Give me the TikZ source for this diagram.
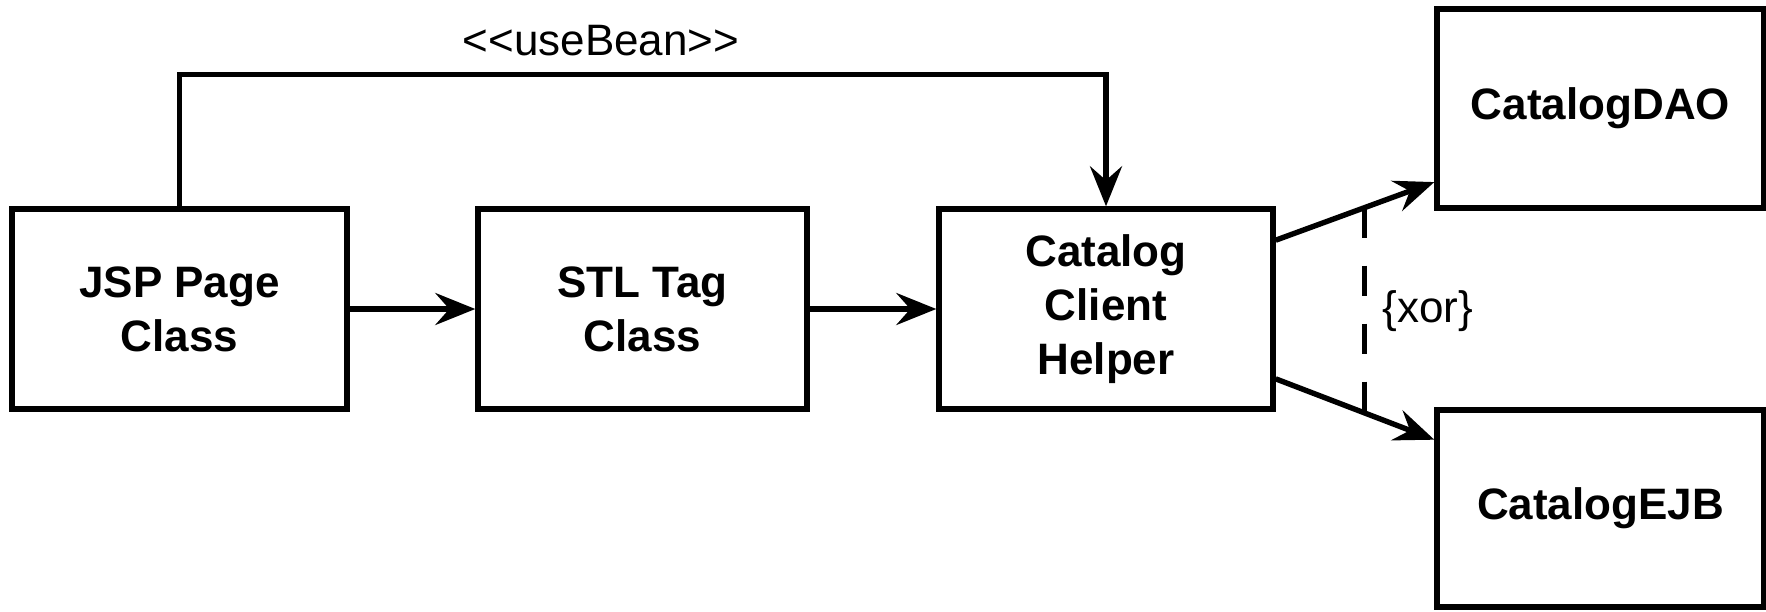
\documentclass[tikz,border=0pt]{standalone}
\usepackage{fontspec}
\setmainfont{Liberation Sans}
\usetikzlibrary{arrows.meta,calc}
\begin{document}
\begin{tikzpicture}[x=0.5pt,y=-0.5pt,
  box/.style={draw, line width=2.7pt, minimum height=100pt, inner sep=0pt, align=center,
    font=\fontsize{22}{27}\selectfont\bfseries},
  conn/.style={line width=2.7pt, -{Stealth[length=20pt,width=16pt,inset=7pt]}},
  lbl/.style={font=\fontsize{22}{27}\selectfont, inner sep=0pt}]
\useasboundingbox (0,0) rectangle (1766,611);
\node[box, minimum width=167.5pt] (jsp) at (179.5,309) {JSP Page\\Class};
\node[box, minimum width=164.5pt] (stl) at (642.5,309) {STL Tag\\Class};
\node[box, minimum width=167pt] (cat) at (1106,309) {Catalog\\Client\\Helper};
\node[box, minimum width=163.5pt, minimum height=99.5pt] (dao) at (1600.5,108.5) {CatalogDAO};
\node[box, minimum width=163.5pt, minimum height=98.5pt] (ejb) at (1600.5,508.5) {CatalogEJB};

\draw[conn] (jsp) -- (stl);
\draw[conn] (stl) -- (cat);
\draw[conn] (jsp.north) -- ++(0,-132) -| (cat.north);
\node[lbl, anchor=base] (ub) at (601,55) {<\kern0pt<useBean>\kern0pt>};

\coordinate (c1) at ($(cat.north east)!0.165!(cat.south east)$);
\coordinate (c2) at ($(cat.north east)!0.84!(cat.south east)$);
\coordinate (d1) at ($(dao.north west)!0.86!(dao.south west)$);
\coordinate (e1) at ($(ejb.north west)!0.16!(ejb.south west)$);
\draw[conn] (c1) -- coordinate[pos=0.561] (x1) (d1);
\draw[conn] (c2) -- coordinate[pos=0.561] (x2) (e1);
\draw[line width=2.7pt, dash pattern=on 15pt off 14pt] (x1) -- (x2);
\node[lbl, anchor=base west] (xor) at (1382,322) {\{xor\}};
\end{tikzpicture}
\end{document}
